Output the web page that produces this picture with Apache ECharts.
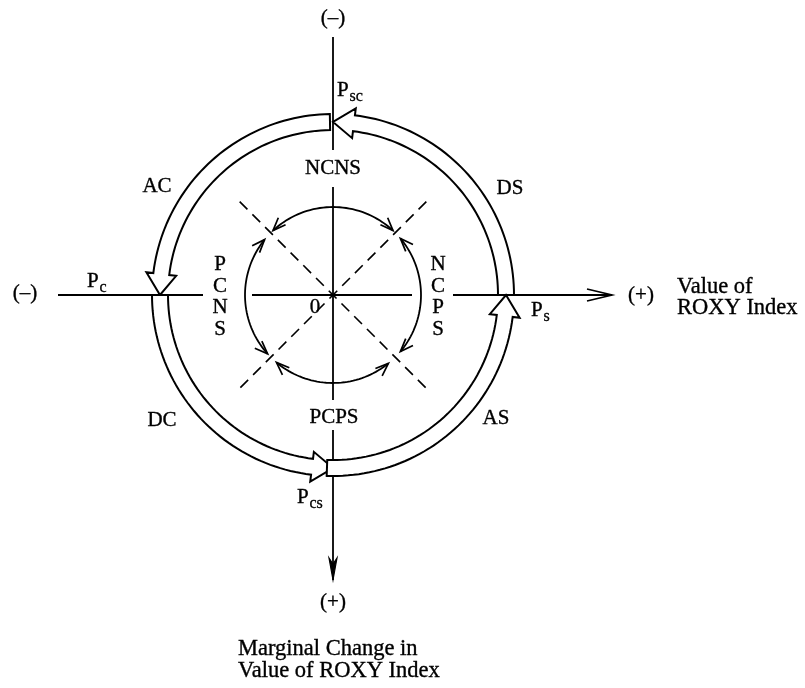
<!DOCTYPE html>
<html><head><meta charset="utf-8">
<script src="https://cdn.jsdelivr.net/npm/echarts@6/dist/echarts.min.js"></script>
<style>html,body{margin:0;padding:0;background:#fff}#c{width:805px;height:688px}</style>
</head><body><div id="c"></div>
<script>
// Diagram space: origin at the centre of the cycle, y upward, 1 unit = 1 px.
const axisSegments = [[0,258,0,145],[0,108,0,-105],[0,-135,0,-285],[-275,0,-130,0],[-81,0,79,0],[120,0,279,0]];
const axisArrows = [[279,0,1,0,'open'],[0,-285,0,-1,'filled']];
const diagonalAngles = [45, 135];
const diagonalHalfLength = [132, 132];
const innerRadius = [88];
const innerArcs = [[47,133],[141,222],[230,309],[320,400]];
const ringRadius = [173];
const cycleNames = ['DS','AC','DC','AS'];
const cycleFrom = [0, 91, 180, 268];
const cycleTo = [90, 180, 270, 360];
const labelText = ['(–)','(–)','(+)','(+)','NCNS','PCPS','P\nC\nN\nS','N\nC\nP\nS','0','DS','AC','DC','AS','Value of','ROXY Index','Marginal Change in','Value of ROXY Index'];
const labelX = [0,-308,308,0,0,1,-113,105,-18,177,-176,-171,163,344,344,-95,-95];
const labelY = [277,2,0,-307,127,-122,-2,-2,-12,107,109,-125,-123,8,-13,-354,-376];
const labelRole = ['mark','mark','mark','mark','mark','mark','mark','mark','mark','mark','mark','mark','mark','caption','caption','caption','caption'];
const pointMain = ['P','P','P','P'];
const pointSub = ['sc','c','s','cs'];
const pointX = [4,-246,198,-36];
const pointY = [205,14,-15,-202];

const FONT = '"Liberation Serif", "DejaVu Serif", serif';
const ROLE_STYLE = {mark:{size:21, align:'center'}, caption:{size:22.5, align:'left'}};
const RING_HALF = 8, HEAD_HALF = 15, HEAD_LEN = 21;

function pol(r, deg){ const a = deg*Math.PI/180; return [r*Math.cos(a), r*Math.sin(a)]; }

const chart = echarts.init(document.getElementById('c'), null, {renderer:'canvas'});

function arrowHead(api, tip, dir, len, half){
  const back = [tip[0]-dir[0]*len, tip[1]-dir[1]*len];
  const n = [-dir[1], dir[0]];
  return [api.coord([back[0]+n[0]*half, back[1]+n[1]*half]), api.coord(tip), api.coord([back[0]-n[0]*half, back[1]-n[1]*half])];
}

const option = {
  animation:false,
  backgroundColor:'#fff',
  grid:{left:0,right:0,top:0,bottom:0},
  xAxis:{type:'value',min:-333,max:472,show:false},
  yAxis:{type:'value',min:-393,max:295,show:false},
  series:[
    { // axis segments
      type:'custom', silent:true, clip:false,
      data: axisSegments.map(s=>[s[0],s[1]]),
      renderItem:(params, api)=>{
        const s = axisSegments[params.dataIndex];
        const p1 = api.coord([s[0],s[1]]), p2 = api.coord([s[2],s[3]]);
        return {type:'line', shape:{x1:p1[0],y1:p1[1],x2:p2[0],y2:p2[1]}, style:{stroke:'#000',lineWidth:1.8}};
      }
    },
    { // axis arrows
      type:'custom', silent:true, clip:false,
      data: axisArrows.map(a=>[a[0],a[1]]),
      renderItem:(params, api)=>{
        const a = axisArrows[params.dataIndex];
        if (a[4]==='open'){
          const pts = arrowHead(api,[a[0],a[1]],[a[2],a[3]],25,6);
          return {type:'polyline', shape:{points:pts}, style:{stroke:'#000',lineWidth:1.7,fill:null}};
        }
        const pts = arrowHead(api,[a[0],a[1]],[a[2],a[3]],22,4);
        const notch = api.coord([a[0]-a[2]*16, a[1]-a[3]*16]);
        return {type:'polygon', shape:{points:[pts[0],pts[1],pts[2],notch]}, style:{stroke:'#000',lineWidth:1.2,fill:'#000'}};
      }
    },
    { // dashed diagonals
      type:'custom', silent:true, clip:false,
      data: diagonalAngles.map(a=>[0,0]),
      renderItem:(params, api)=>{
        const ang = diagonalAngles[params.dataIndex], L = diagonalHalfLength[params.dataIndex];
        const p1 = api.coord(pol(L, ang)), p2 = api.coord(pol(L, ang+180));
        return {type:'line', shape:{x1:p1[0],y1:p1[1],x2:p2[0],y2:p2[1]}, style:{stroke:'#000',lineWidth:1.6,lineDash:[11,7]}};
      }
    },
    { // inner double-headed arcs
      type:'custom', silent:true, clip:false,
      data: innerArcs.map(a=>[0,0]),
      renderItem:(params, api)=>{
        const [a1,a2] = innerArcs[params.dataIndex];
        const r = innerRadius[0];
        const pts = [];
        for (let k=0;k<=40;k++){ pts.push(api.coord(pol(r, a1+(a2-a1)*k/40))); }
        const t2 = a2*Math.PI/180, t1 = a1*Math.PI/180;
        const dirEnd = [-Math.sin(t2+0.06), Math.cos(t2+0.06)];
        const dirStart = [Math.sin(t1-0.06), -Math.cos(t1-0.06)];
        return {type:'group', children:[
          {type:'polyline', shape:{points:pts}, style:{stroke:'#000',lineWidth:1.8,fill:null}},
          {type:'polyline', shape:{points:arrowHead(api,pol(r,a2),dirEnd,13,5)}, style:{stroke:'#000',lineWidth:1.7,fill:null}},
          {type:'polyline', shape:{points:arrowHead(api,pol(r,a1),dirStart,13,5)}, style:{stroke:'#000',lineWidth:1.7,fill:null}}
        ]};
      }
    },
    { // outer cycle band arrows
      type:'custom', silent:true, clip:false,
      data: cycleNames.map(n=>[0,0]),
      renderItem:(params, api)=>{
        const i = params.dataIndex;
        const s = cycleFrom[i], e = cycleTo[i];
        const R = ringRadius[0];
        const headDeg = HEAD_LEN / R * 180 / Math.PI;
        const b = e - headDeg;
        const pts = [];
        const N = 50;
        for (let k=0;k<=N;k++){ pts.push(api.coord(pol(R+RING_HALF, s+(b-s)*k/N))); }
        pts.push(api.coord(pol(R+HEAD_HALF, b)));
        pts.push(api.coord(pol(R, e)));
        pts.push(api.coord(pol(R-HEAD_HALF, b)));
        for (let k=N;k>=0;k--){ pts.push(api.coord(pol(R-RING_HALF, s+(b-s)*k/N))); }
        return {type:'polygon', shape:{points:pts}, style:{stroke:'#000',lineWidth:2,fill:'#fff',lineJoin:'miter'}};
      }
    },
    { // text labels
      type:'custom', silent:true, clip:false,
      data: labelText.map((t,i)=>[labelX[i],labelY[i]]),
      renderItem:(params, api)=>{
        const i = params.dataIndex;
        const st = ROLE_STYLE[labelRole[i]];
        const p = api.coord([labelX[i], labelY[i]]);
        return {type:'text', x:p[0], y:p[1], style:{text:labelText[i], fill:'#000', stroke:'#000', lineWidth:0.35, font:st.size+'px '+FONT, lineHeight:21.5, align:st.align, verticalAlign:'middle'}};
      }
    },
    { // P labels with subscripts
      type:'custom', silent:true, clip:false,
      data: pointMain.map((t,i)=>[pointX[i],pointY[i]]),
      renderItem:(params, api)=>{
        const i = params.dataIndex;
        const p = api.coord([pointX[i], pointY[i]]);
        return {type:'group', children:[
          {type:'text', x:p[0], y:p[1], style:{text:pointMain[i], fill:'#000', stroke:'#000', lineWidth:0.35, font:'21px '+FONT, align:'left', verticalAlign:'middle'}},
          {type:'text', x:p[0]+12.5, y:p[1]+7, style:{text:pointSub[i], fill:'#000', stroke:'#000', lineWidth:0.3, font:'16px '+FONT, align:'left', verticalAlign:'middle'}}
        ]};
      }
    }
  ]
};
chart.setOption(option);
</script>
</body></html>
